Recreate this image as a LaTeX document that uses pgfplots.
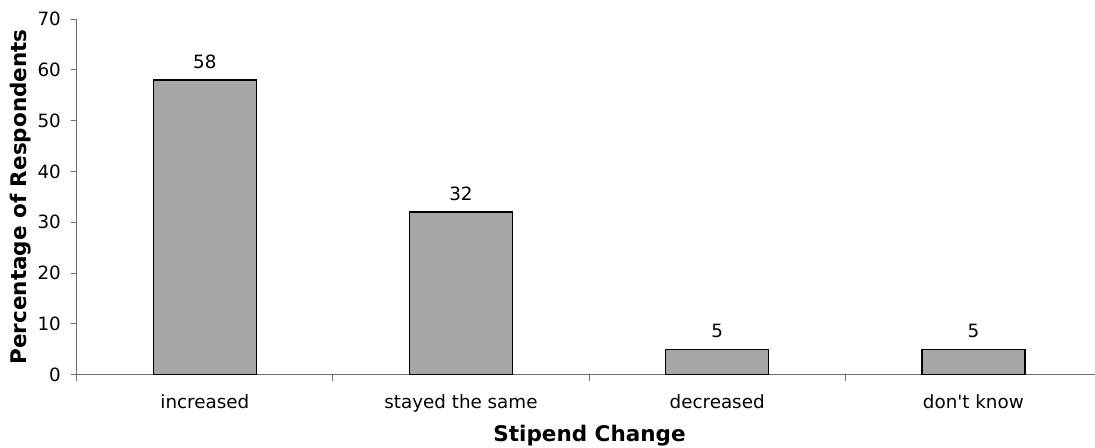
\documentclass[border=0pt]{standalone}
\usepackage{fontspec}
\setmainfont{DejaVu Sans}
\usepackage{pgfplots}
\pgfplotsset{compat=1.18}
\usetikzlibrary{calc}

\definecolor{barfill}{RGB}{166,166,166}
\definecolor{axisgray}{RGB}{110,110,110}

\newcommand{\tickfont}{\fontsize{18.3}{21}\selectfont}
\newcommand{\labelfont}{\fontsize{21.5}{25}\selectfont\bfseries}

\begin{document}
\begin{tikzpicture}
\begin{axis}[
  scale only axis,
  width=1018.3pt, height=355.7pt,
  xmin=-0.5, xmax=3.475,
  ymin=0, ymax=70,
  axis x line=bottom, axis y line=left,
  axis line style={-, draw=axisgray, line width=0.9pt},
  ybar, bar width=0.402, bar shift=0pt,
  xtick={0,1,2,3},
  xticklabels={increased, stayed the same, decreased, don\textquotesingle t know},
  minor xtick={-0.5,0.5,1.5,2.5},
  every major x tick/.style={draw=none},
  every minor x tick/.append style={draw=axisgray, line width=0.9pt},
  every major y tick/.append style={draw=axisgray, line width=0.9pt},
  major tick length=6pt, minor tick length=6pt,
  tick align=outside,
  ytick={0,10,...,70},
  /pgf/number format/assume math mode=true,
  ticklabel style={font=\tickfont, text=black},
  xticklabel style={anchor=base, inner sep=0pt, yshift=-27.6pt},
  yticklabel style={anchor=east, inner sep=0pt, xshift=-9.7pt},
  xlabel={Stipend Change},
  ylabel={Percentage of Respondents},
  xlabel style={font=\labelfont, at={(axis description cs:0.5036,0)}, anchor=base, inner sep=0pt, yshift=-67pt},
  ylabel style={font=\labelfont, at={(axis description cs:-0.0491,0.5)}, anchor=base, inner sep=0pt},
  nodes near coords,
  every node near coord/.append style={font=\tickfont, text=black, anchor=base, inner sep=0pt, yshift=11.7pt},
  clip=false,
]
\addplot[fill=barfill, draw=black, line width=1.4pt] coordinates {
  (0,58) (1,32) (2,5) (3,5)
};
\end{axis}
\pgfresetboundingbox
\path ($(current axis.south west)+(-76.7pt,-73.3pt)$) rectangle ($(current axis.north east)+(0pt,19pt)$);
\end{tikzpicture}
\end{document}
